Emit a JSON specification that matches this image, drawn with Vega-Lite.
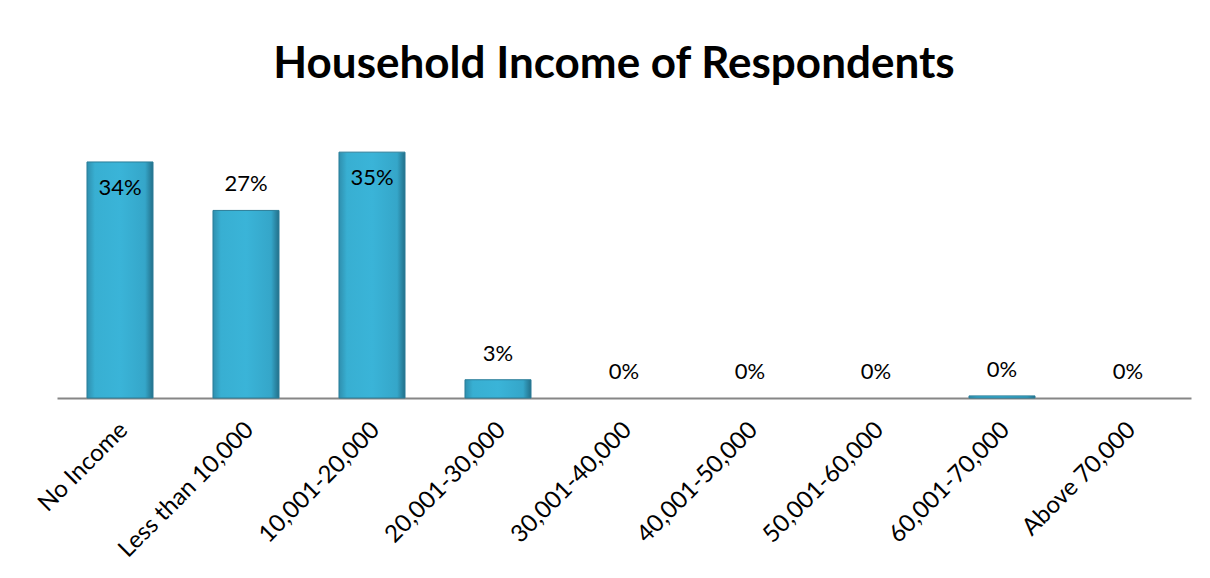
{
  "$schema": "https://vega.github.io/schema/vega-lite/v6.json",
  "autosize": {"type": "none"},
  "width": 1134,
  "height": 281,
  "padding": {"left": 57, "top": 117, "right": 19, "bottom": 180},
  "background": "white",
  "title": {
    "text": "Household Income of Respondents",
    "font": "Lato",
    "fontSize": 44,
    "fontWeight": "bold",
    "color": "#000000",
    "anchor": "middle",
    "dx": -10,
    "offset": 30
  },
  "data": {
    "values": [
      {"income": "No Income", "share": 0.336},
      {"income": "Less than 10,000", "share": 0.267},
      {"income": "10,001-20,000", "share": 0.35},
      {"income": "20,001-30,000", "share": 0.026},
      {"income": "30,001-40,000", "share": 0},
      {"income": "40,001-50,000", "share": 0},
      {"income": "50,001-60,000", "share": 0},
      {"income": "60,001-70,000", "share": 0.003},
      {"income": "Above 70,000", "share": 0}
    ]
  },
  "config": {"view": {"stroke": null}},
  "encoding": {
    "x": {
      "field": "income",
      "type": "nominal",
      "sort": ["No Income", "Less than 10,000", "10,001-20,000", "20,001-30,000", "30,001-40,000", "40,001-50,000", "50,001-60,000", "60,001-70,000", "Above 70,000"],
      "scale": {"paddingInner": 0.476, "paddingOuter": 0.238},
      "axis": {
        "title": null,
        "labelAngle": -45,
        "labelAlign": "right",
        "labelBaseline": "middle",
        "labelFont": "Lato",
        "labelFontSize": 24,
        "labelColor": "#000000",
        "labelPadding": 28,
        "labelOffset": 4,
        "labelLimit": 300,
        "ticks": false,
        "domainColor": "#868686",
        "domainWidth": 2,
        "grid": false
      }
    },
    "y": {
      "field": "share",
      "type": "quantitative",
      "scale": {"domain": [0, 0.4], "nice": false},
      "axis": null
    }
  },
  "layer": [
    {
      "transform": [{"filter": "datum.share > 0"}],
      "mark": {
        "type": "bar",
        "stroke": "#2a7d98",
        "strokeWidth": 1,
        "color": {
          "gradient": "linear",
          "x1": 0, "y1": 0, "x2": 1, "y2": 0,
          "stops": [
            {"offset": 0, "color": "#2f8fae"},
            {"offset": 0.12, "color": "#38afd2"},
            {"offset": 0.5, "color": "#3ab4d8"},
            {"offset": 0.88, "color": "#35a6c9"},
            {"offset": 1, "color": "#23708a"}
          ]
        }
      }
    },
    {
      "transform": [{"filter": "datum.share < 0.3"}],
      "mark": {
        "type": "text",
        "baseline": "bottom",
        "dy": -14,
        "font": "Lato",
        "fontSize": 22,
        "color": "#000000"
      },
      "encoding": {
        "text": {"field": "share", "type": "quantitative", "format": ".0%"}
      }
    },
    {
      "transform": [{"filter": "datum.share >= 0.3"}],
      "mark": {
        "type": "text",
        "baseline": "top",
        "dy": 16,
        "font": "Lato",
        "fontSize": 22,
        "color": "#000000"
      },
      "encoding": {
        "text": {"field": "share", "type": "quantitative", "format": ".0%"}
      }
    }
  ]
}
